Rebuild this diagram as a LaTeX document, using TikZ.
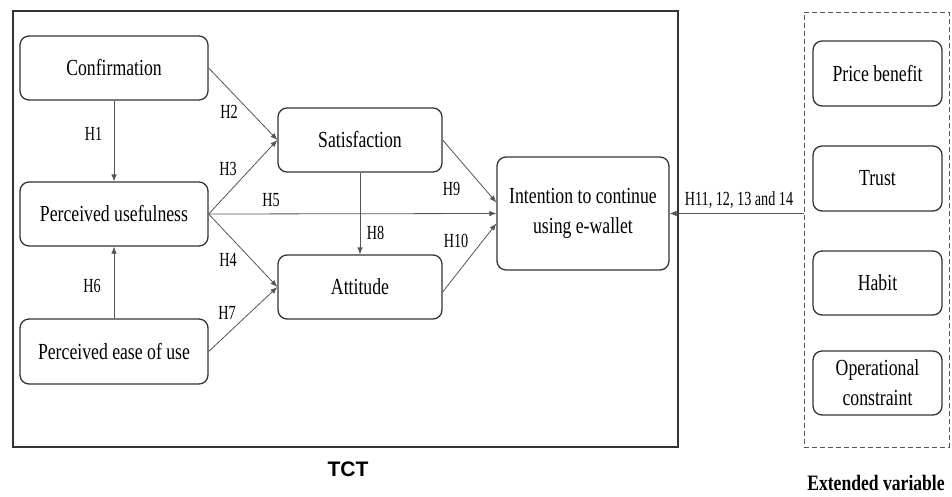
\documentclass[tikz,border=0pt]{standalone}
\usepackage{fontspec}
\setmainfont{Liberation Serif}
\newfontfamily\nodefont[FakeStretch=0.77]{Liberation Serif}
\newfontfamily\labfont[FakeStretch=0.71]{Liberation Serif}
\newfontfamily\extfont[FakeStretch=0.80,UprightFont={* Bold}]{Liberation Serif}
\newfontfamily\tctfont{Liberation Sans}
\usetikzlibrary{arrows.meta,calc}
\definecolor{edgec}{HTML}{333333}
\definecolor{arrc}{HTML}{555555}
\tikzset{
  box/.style={draw=edgec, line width=1.3pt, rounded corners=9pt, inner sep=0pt,
    align=center, font=\nodefont\fontsize{23}{30}\selectfont},
  conn/.style={draw=arrc, line width=0.8pt, -{Latex[length=7pt,width=5.5pt]}},
  hlab/.style={inner sep=0pt, font=\labfont\fontsize{20}{24}\selectfont},
}
\begin{document}
\begin{tikzpicture}[x=1pt,y=-1pt]
\useasboundingbox (0,0) rectangle (952,496);
% frames
\node[draw=edgec, line width=1.8pt, minimum width=665pt, minimum height=436pt, inner sep=0pt] (tct) at (345.5,229) {};
\node[draw=arrc, line width=1pt, dash pattern=on 5pt off 3pt, minimum width=145pt, minimum height=435pt, inner sep=0pt] (ext) at (876.5,229.5) {};
% nodes
\node[box, minimum width=188pt, minimum height=64pt] (conf) at (114,68) {Confirmation};
\node[box, minimum width=188pt, minimum height=64pt] (pu) at (114,214) {Perceived usefulness};
\node[box, minimum width=188pt, minimum height=65pt] (peu) at (114,351.5) {Perceived ease of use};
\node[box, minimum width=164pt, minimum height=64pt] (sat) at (360,140) {Satisfaction};
\node[box, minimum width=164pt, minimum height=64pt] (att) at (360,287) {Attitude};
\node[box, minimum width=172pt, minimum height=113pt] (int) at (583,213.5) {Intention to continue\\using e-wallet};
\node[box, minimum width=129pt, minimum height=65pt] (price) at (877.5,73.5) {Price benefit};
\node[box, minimum width=129pt, minimum height=65pt] (trust) at (877.5,178.5) {Trust};
\node[box, minimum width=129pt, minimum height=64pt] (habit) at (877.5,283) {Habit};
\node[box, minimum width=129pt, minimum height=64pt] (oper) at (877.5,383) {Operational\\constraint};
% connectors
\draw[conn] (conf.south) -- (pu.north);
\draw[conn] (peu.north) -- (pu.south);
\draw[conn] (conf.east) -- (sat.west);
\draw[conn] (pu.east) -- (sat.west);
\draw[conn] (pu.east) -- (att.west);
\draw[conn] (peu.east) -- (att.west);
\draw[conn] (pu.east) -- (int.west);
\draw[conn] (sat.south) -- (att.north);
\draw[conn] (sat.east) -- ($(int.west)+(0,-11)$);
\draw[conn] ($(att.east)+(0,5)$) -- ($(int.west)+(0,10)$);
\draw[conn] (ext.west |- int.east) -- (int.east);
% labels
\node[hlab] (h1) at (93.5,133.5) {H1};
\node[hlab] (h6) at (92,286) {H6};
\node[hlab] (h2) at (229,112) {H2};
\node[hlab] (h3) at (228,168.5) {H3};
\node[hlab] (h5) at (271,200) {H5};
\node[hlab] (h4) at (228,259.5) {H4};
\node[hlab] (h7) at (227,312.5) {H7};
\node[hlab] (h8) at (375.5,232.5) {H8};
\node[hlab] (h9) at (451.5,188.5) {H9};
\node[hlab] (h10) at (456,241) {H10};
\node[hlab] (h11) at (739,200) {H11, 12, 13 and 14};
\node[inner sep=0pt, font=\tctfont\bfseries\fontsize{21}{24}\selectfont] (tctl) at (348,469) {TCT};
\node[inner sep=0pt, font=\extfont\fontsize{22}{25}\selectfont] (extl) at (876,483) {Extended variable};
\end{tikzpicture}
\end{document}
